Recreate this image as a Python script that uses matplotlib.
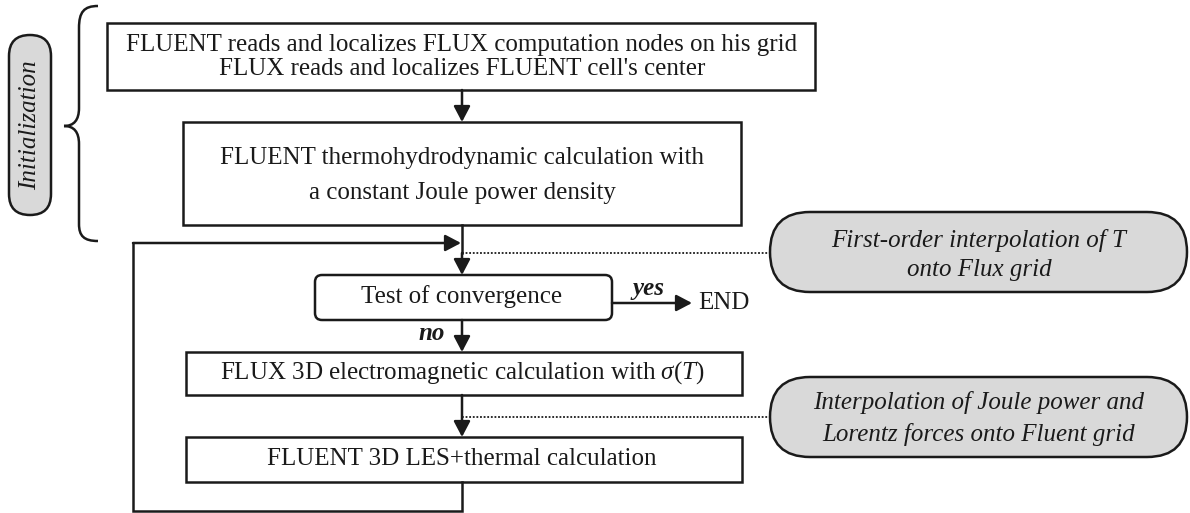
import matplotlib
matplotlib.use("Agg")
import matplotlib.pyplot as plt
from matplotlib.patches import FancyBboxPatch, Rectangle, PathPatch
from matplotlib.path import Path

plt.rcParams['font.family'] = ['Liberation Serif', 'DejaVu Serif']
plt.rcParams['mathtext.fontset'] = 'custom'
plt.rcParams['mathtext.rm'] = 'Liberation Serif'
plt.rcParams['mathtext.it'] = 'Liberation Serif:italic'

# ---- texts ----
init_label = "Initialization"
box1_lines = ["FLUENT reads and localizes FLUX computation nodes on his grid",
              "FLUX reads and localizes FLUENT cell's center"]
box2_lines = ["FLUENT thermohydrodynamic calculation with",
              "a constant Joule power density"]
test_label = "Test of convergence"
flux_label = r"FLUX 3D electromagnetic calculation with $\mathit{\sigma(T)}$"
les_label = "FLUENT 3D LES+thermal calculation"
yes_label = "yes"
no_label = "no"
end_label = "END"
note1_lines = ["First-order interpolation of T", "onto Flux grid"]
note2_lines = ["Interpolation of Joule power and", "Lorentz forces onto Fluent grid"]

W, H = 1190, 513
fig = plt.figure(figsize=(W / 100, H / 100), dpi=100)
ax = fig.add_axes([0, 0, 1, 1])
ax.set_xlim(0, W)
ax.set_ylim(H, 0)
ax.axis('off')

LW = 1.8
FS = 18
col = '#1a1a1a'
gray = '#d9d9d9'


def rect(x0, y0, x1, y1):
    ax.add_patch(Rectangle((x0, y0), x1 - x0, y1 - y0, fill=False, ec=col, lw=LW))


def rbox(x0, y0, x1, y1, r, fc='none'):
    ax.add_patch(FancyBboxPatch((x0, y0), x1 - x0, y1 - y0,
                                boxstyle=f"round,pad=0,rounding_size={r}",
                                fc=fc, ec=col, lw=LW))


def arrow(x0, y0, x1, y1):
    ax.annotate('', xy=(x1, y1), xytext=(x0, y0),
                arrowprops=dict(arrowstyle='-|>,head_length=0.95,head_width=0.5',
                                color=col, lw=LW, shrinkA=0, shrinkB=0))


def txt(x, y, s, **kw):
    ax.text(x, y, s, ha='center', va='center', fontsize=FS, color=col, **kw)


cx = 462

# Box 1
rect(107, 23, 815, 90)
txt(cx, 45, box1_lines[0])
txt(cx, 69, box1_lines[1])
arrow(cx, 90, cx, 122)

# Box 2
rect(183, 122, 741, 225)
txt(cx, 158, box2_lines[0])
txt(cx, 193, box2_lines[1])
ax.plot([cx, cx], [225, 253], color=col, lw=LW)
arrow(cx, 253, cx, 275)

# loop back
ax.plot([cx, cx, 133, 133], [482, 511, 511, 243], color=col, lw=LW, solid_joinstyle='miter')
arrow(133, 243, cx - 1, 243)

# Test box
rbox(315, 275, 612, 320, 7)
txt(cx, 297, test_label)
arrow(612, 303, 692, 303)
txt(648, 288, yes_label, style='italic', weight='bold')
txt(724, 303, end_label)
arrow(cx, 320, cx, 352)
txt(432, 334, no_label, style='italic', weight='bold')

# FLUX box
rect(186, 352, 742, 395)
txt(cx, 373, flux_label)
arrow(cx, 395, cx, 437)

# LES box
rect(186, 437, 742, 482)
txt(cx, 459, les_label)

# dotted connectors
ax.plot([cx, 770], [253, 253], color=col, lw=1.3, ls=(0, (1, 1)))
ax.plot([cx, 770], [417, 417], color=col, lw=1.3, ls=(0, (1, 1)))

# notes
rbox(770, 212, 1187, 292, 40, fc=gray)
txt(979, 241, note1_lines[0], style='italic')
txt(979, 270, note1_lines[1], style='italic')
rbox(770, 377, 1187, 457, 40, fc=gray)
txt(979, 403, note2_lines[0], style='italic')
txt(979, 435, note2_lines[1], style='italic')

# Initialization pill
rbox(9, 35, 51, 215, 21, fc=gray)
txt(30, 125, init_label, style='italic', rotation=90)

# Brace
verts = [(98, 6), (84, 6), (79, 12), (79, 28),
         (79, 108),
         (79, 120), (74, 126), (64, 126),
         (74, 126), (79, 132), (79, 144),
         (79, 224),
         (79, 236), (84, 241), (98, 241)]
codes = [Path.MOVETO, Path.CURVE4, Path.CURVE4, Path.CURVE4,
         Path.LINETO,
         Path.CURVE4, Path.CURVE4, Path.CURVE4,
         Path.CURVE4, Path.CURVE4, Path.CURVE4,
         Path.LINETO,
         Path.CURVE4, Path.CURVE4, Path.CURVE4]
ax.add_patch(PathPatch(Path(verts, codes), fill=False, ec=col, lw=LW))

fig.savefig('out.png', dpi=100)
